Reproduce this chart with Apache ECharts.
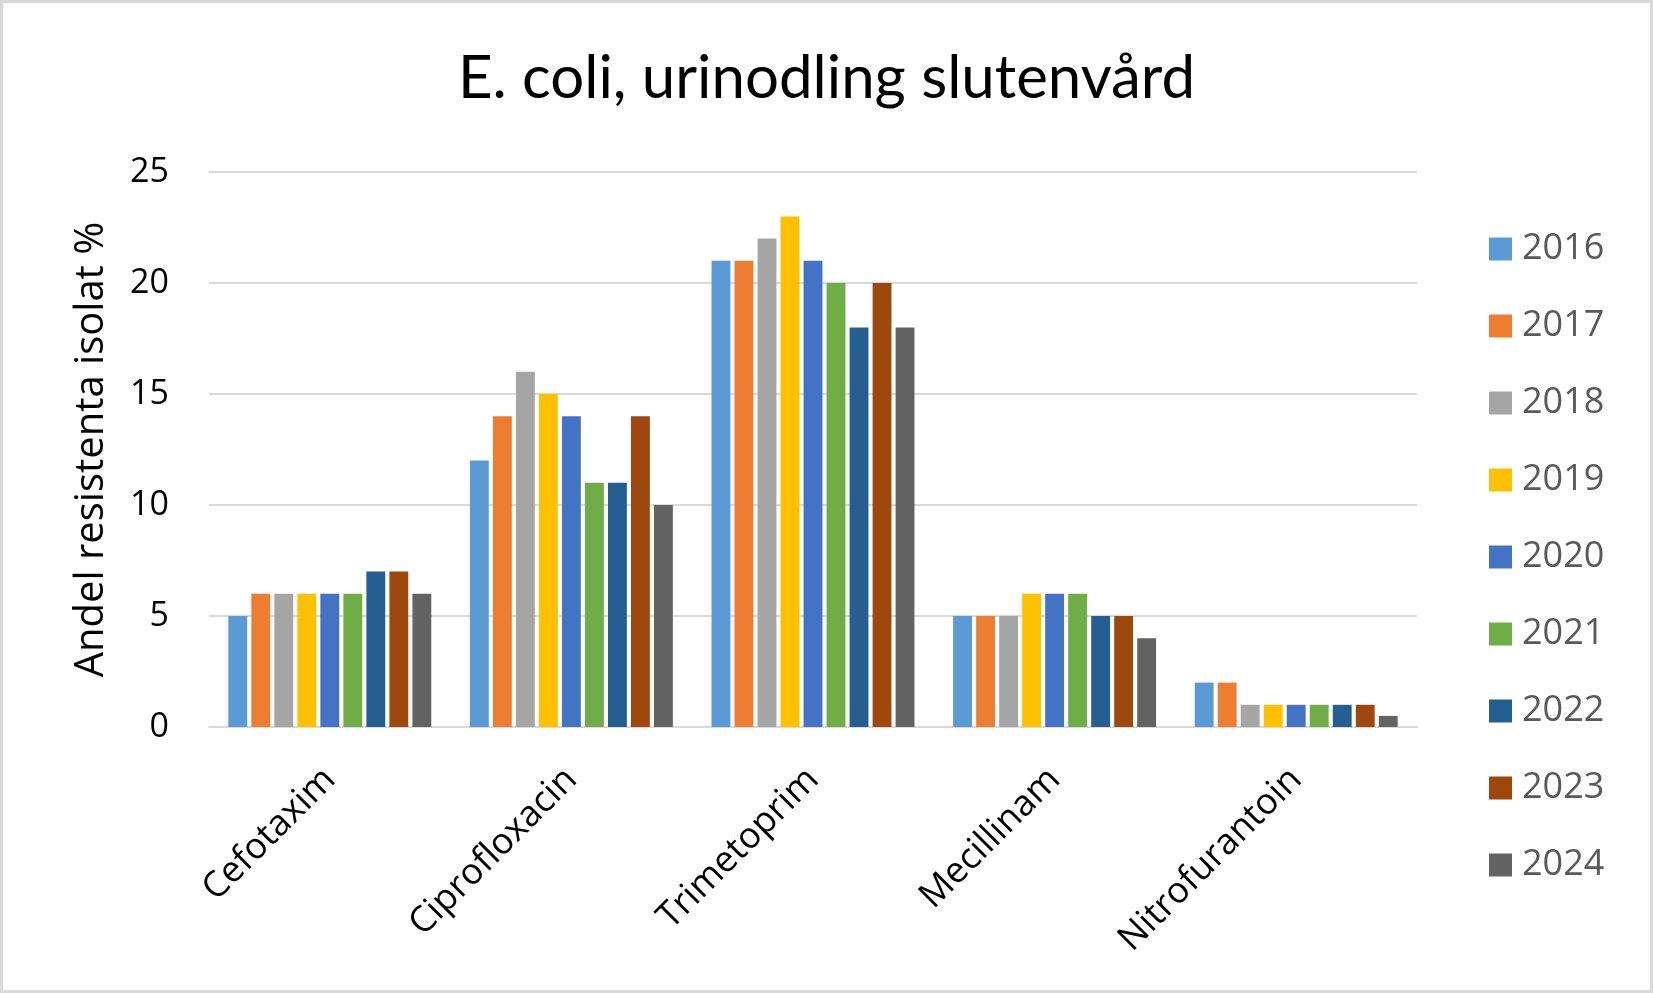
<!DOCTYPE html>
<html>
<head>
<meta charset="utf-8">
<script src="https://cdn.jsdelivr.net/npm/echarts@6/dist/echarts.min.js"></script>
<style>
html,body{margin:0;padding:0;background:#fff;}
#wrap{position:relative;width:1653px;height:993px;}
#chart{position:absolute;left:0;top:0;width:1653px;height:993px;}
#frame{position:absolute;left:0;top:0;width:1653px;height:993px;box-sizing:border-box;border:3px solid #d9d9d9;pointer-events:none;}
</style>
</head>
<body>
<div id="wrap"><div id="chart"></div><div id="frame"></div></div>
<script>
const titleText = 'E. coli, urinodling slutenvård';
const yAxisName = 'Andel resistenta isolat %';
const categories = ['Cefotaxim', 'Ciprofloxacin', 'Trimetoprim', 'Mecillinam', 'Nitrofurantoin'];
const years = ['2016', '2017', '2018', '2019', '2020', '2021', '2022', '2023', '2024'];
const v2016 = [5, 12, 21, 5, 2];
const v2017 = [6, 14, 21, 5, 2];
const v2018 = [6, 16, 22, 5, 1];
const v2019 = [6, 15, 23, 6, 1];
const v2020 = [6, 14, 21, 6, 1];
const v2021 = [6, 11, 20, 6, 1];
const v2022 = [7, 11, 18, 5, 1];
const v2023 = [7, 14, 20, 5, 1];
const v2024 = [6, 10, 18, 4, 0.5];
const seriesValues = [v2016, v2017, v2018, v2019, v2020, v2021, v2022, v2023, v2024];
const colors = ['#5B9BD5', '#ED7D31', '#A5A5A5', '#FFC000', '#4472C4', '#70AD47', '#255E91', '#9E480E', '#636363'];
const yTicks = [0, 5, 10, 15, 20, 25];

const chart = echarts.init(document.getElementById('chart'), null, {renderer: 'canvas'});
const series = years.map((y, i) => ({
  name: y,
  type: 'bar',
  data: seriesValues[i],
  itemStyle: {color: colors[i]},
  barGap: '22%',
  barCategoryGap: '16%'
}));
chart.setOption({
  animation: false,
  backgroundColor: '#fff',
  color: colors,
  title: {
    text: titleText,
    left: 'center',
    top: 44,
    textStyle: {fontFamily: 'Lato', fontWeight: 'normal', fontSize: 60, color: '#000'}
  },
  legend: {
    orient: 'vertical',
    left: 1484,
    top: 224,
    icon: 'rect',
    itemWidth: 23,
    itemHeight: 23,
    itemGap: 37,
    data: years,
    textStyle: {fontFamily: 'Open Sans', fontSize: 36, color: '#595959', lineHeight: 40, padding: [0, 0, 0, 5]}
  },
  grid: {left: 209, right: 236, top: 172, bottom: 266, containLabel: false},
  xAxis: {
    type: 'category',
    data: categories,
    axisLine: {show: true, lineStyle: {color: '#D9D9D9', width: 2}},
    axisTick: {show: false},
    axisLabel: {rotate: 45, margin: 47, fontFamily: 'Open Sans', fontSize: 36, color: '#000'}
  },
  yAxis: {
    type: 'value',
    min: yTicks[0],
    max: yTicks[yTicks.length - 1],
    interval: 5,
    name: yAxisName,
    nameLocation: 'middle',
    nameGap: 97,
    nameTextStyle: {fontFamily: 'Open Sans', fontSize: 40, color: '#000'},
    axisLine: {show: false},
    axisTick: {show: false},
    splitLine: {lineStyle: {color: '#D9D9D9', width: 2}},
    axisLabel: {margin: 40, fontFamily: 'Open Sans', fontSize: 34, color: '#000'}
  },
  series: series
});
</script>
</body>
</html>
